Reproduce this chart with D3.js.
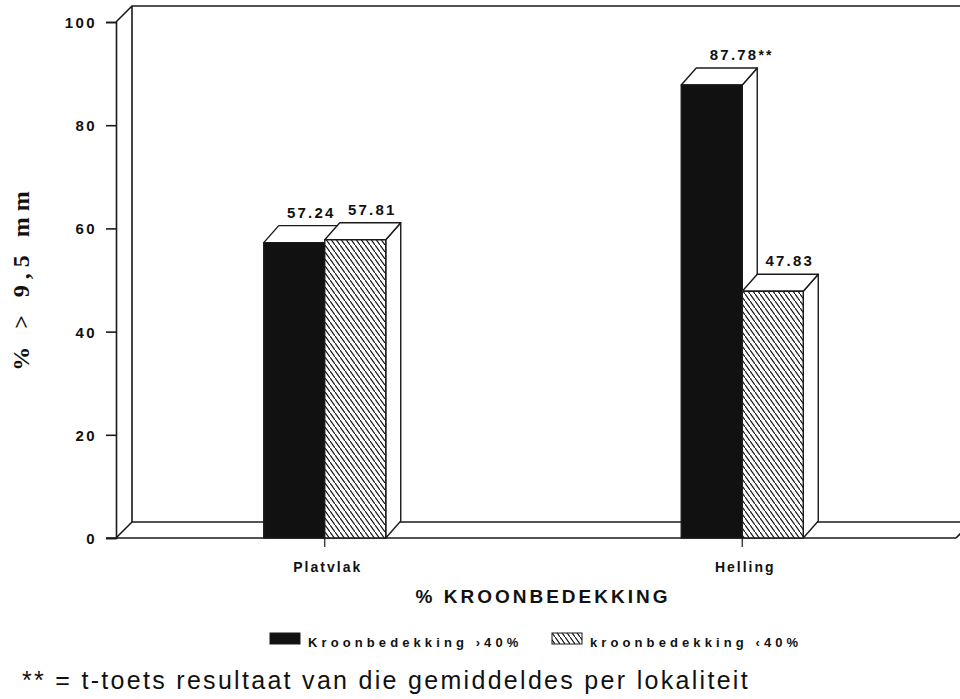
<!DOCTYPE html>
<html>
<head>
<meta charset="utf-8">
<script src="https://cdn.jsdelivr.net/npm/d3@7/dist/d3.min.js"></script>
<style>
  html, body { margin: 0; padding: 0; background: #fff; }
  svg { display: block; }
</style>
</head>
<body>
<svg id="chart" width="960" height="699"></svg>
<script>
// Percentage of stones > 9,5 mm by crown cover and terrain
const categories = ["Platvlak", "Helling"];
const series = ["Kroonbedekking \u203A40%", "kroonbedekking \u203940%"];
const highCover = [57.24, 87.78];   // crown cover > 40%
const lowCover = [57.81, 47.83];    // crown cover < 40%
const valueSuffix = [["", ""], ["**", ""]];
const yTicks = [0, 20, 40, 60, 80, 100];
const yTitle = "% > 9,5 mm";
const xTitle = "% KROONBEDEKKING";
const footnote = "** = t-toets resultaat van die gemiddeldes per lokaliteit";

const svg = d3.select("#chart");
const ink = "#1a1a1a";
const sans = "'Liberation Sans', Arial, Helvetica, sans-serif";

// scales
const y = d3.scaleLinear().domain([0, 100]).range([538, 22]);
const xCat = d3.scaleBand().domain(categories).range([116, 951]);
const xSer = d3.scaleBand().domain(series).range([-61, 61]);

// depth offsets for the pseudo-3D frame and bars
const wall = { dx: 16, dy: -16 };
const box = { dx: 15, dy: -17 };

// hatch pattern
const defs = svg.append("defs");
const pat = defs.append("pattern")
  .attr("id", "hatch").attr("patternUnits", "userSpaceOnUse")
  .attr("width", 5).attr("height", 7);
pat.append("rect").attr("width", 5).attr("height", 7).attr("fill", "#fff");
pat.append("path").attr("d", "M-0.5,-0.7 L5.5,7.7")
  .attr("stroke", "#111").attr("stroke-width", 1.15);

// frame: back wall and floor
const frame = svg.append("g")
  .attr("fill", "none").attr("stroke", ink).attr("stroke-width", 1.6);
const x0 = 116, yTop = y(100), yBase = y(0);
frame.append("path").attr("d",
  `M${x0},${yTop} L${x0 + wall.dx},${yTop + wall.dy} L975,${yTop + wall.dy}` +
  `M${x0 + wall.dx},${yTop + wall.dy} L${x0 + wall.dx},${yBase + wall.dy} L975,${yBase + wall.dy}` +
  `M${x0},${yBase} L${x0 + wall.dx},${yBase + wall.dy}` +
  `M956,${yBase} L${956 + wall.dx},${yBase + wall.dy}` +
  `M106,${yBase} L956,${yBase}`);

// y axis
const yAxis = svg.append("g")
  .attr("transform", `translate(${x0},0)`)
  .call(d3.axisLeft(y).tickValues(yTicks).tickSize(10).tickPadding(9));
yAxis.select(".domain").attr("stroke", ink).attr("stroke-width", 1.6);
yAxis.selectAll(".tick line").attr("stroke", ink).attr("stroke-width", 1.6);
yAxis.selectAll(".tick text")
  .attr("fill", "#111").style("font", `900 15px ${sans}`)
  .style("letter-spacing", "2.4px").attr("dy", "0.36em");

// category ticks under the floor
svg.append("g").selectAll("line").data(categories).join("line")
  .attr("x1", d => xCat(d) + xCat.bandwidth() / 2)
  .attr("x2", d => xCat(d) + xCat.bandwidth() / 2)
  .attr("y1", yBase).attr("y2", yBase + 9)
  .attr("stroke", ink).attr("stroke-width", 1.2);

// bars
const rows = [];
categories.forEach((c, i) => {
  rows.push({ cat: c, ser: series[0], v: highCover[i], suffix: valueSuffix[i][0], fill: "#111" });
  rows.push({ cat: c, ser: series[1], v: lowCover[i], suffix: valueSuffix[i][1], fill: "url(#hatch)" });
});

const bars = svg.append("g");
rows.forEach(r => {
  const cx = xCat(r.cat) + xCat.bandwidth() / 2;
  const bx = cx + xSer(r.ser), bw = xSer.bandwidth();
  const top = y(r.v);
  const g = bars.append("g").attr("stroke", ink).attr("stroke-width", 1.4)
    .attr("stroke-linejoin", "round");
  // side face
  g.append("path").attr("fill", "#fff").attr("d",
    `M${bx + bw},${top} L${bx + bw + box.dx},${top + box.dy} L${bx + bw + box.dx},${yBase + box.dy} L${bx + bw},${yBase} Z`);
  // top face
  g.append("path").attr("fill", "#fff").attr("d",
    `M${bx},${top} L${bx + box.dx},${top + box.dy} L${bx + bw + box.dx},${top + box.dy} L${bx + bw},${top} Z`);
  // front face
  g.append("rect").attr("x", bx).attr("y", top).attr("width", bw)
    .attr("height", yBase - top).attr("fill", r.fill);
  // value label
  const lbl = svg.append("text")
    .attr("x", bx + bw / 2 + box.dx + 2).attr("y", top + box.dy - 8)
    .attr("text-anchor", "middle").attr("fill", "#111")
    .style("font", `900 15px ${sans}`).style("letter-spacing", "2.2px");
  lbl.append("tspan").text(d3.format(".2f")(r.v));
  if (r.suffix) lbl.append("tspan").text(r.suffix).style("font-size", "14px");
  if (r.suffix) lbl.attr("x", bx + bw / 2 + box.dx + 15);
});

// category labels
svg.append("g").selectAll("text").data(categories).join("text")
  .attr("x", d => xCat(d) + xCat.bandwidth() / 2 + 3).attr("y", 572)
  .attr("text-anchor", "middle").attr("fill", "#111")
  .style("font", `900 14px ${sans}`).style("letter-spacing", "2px")
  .text(d => d);

// x title
svg.append("text").attr("x", 543).attr("y", 603).attr("text-anchor", "middle")
  .attr("fill", "#111").style("font", `19px ${sans}`).style("letter-spacing", "3px")
  .style("font-weight", "600")
  .text(xTitle);

// y title
svg.append("text").attr("transform", "translate(29,278) rotate(-90)")
  .attr("text-anchor", "middle").attr("fill", "#111")
  .style("font", "bold 24px 'Liberation Serif', 'DejaVu Serif', serif")
  .style("letter-spacing", "6px")
  .text(yTitle);

// legend
const legend = svg.append("g");
const legendItems = [
  { label: series[0], fill: "#111", x: 270 },
  { label: series[1], fill: "url(#hatch)", x: 552 }
];
legendItems.forEach(it => {
  legend.append("rect").attr("x", it.x).attr("y", 633).attr("width", 30).attr("height", 11)
    .attr("fill", it.fill).attr("stroke", ink).attr("stroke-width", 1);
  legend.append("text").attr("x", it.x + 38).attr("y", 647).attr("fill", "#111")
    .style("font", `900 13px ${sans}`).style("letter-spacing", "4.1px")
    .text(it.label);
});

// footnote
svg.append("text").attr("x", 22).attr("y", 689).attr("fill", "#111")
  .style("font", `25px ${sans}`).style("letter-spacing", "2.3px")
  .text(footnote);
</script>
</body>
</html>
